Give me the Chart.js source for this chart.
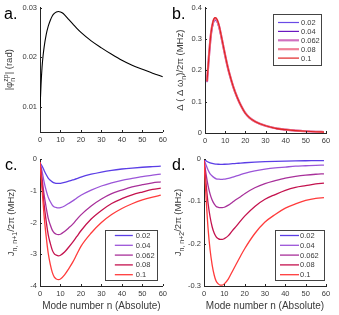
<!DOCTYPE html>
<html>
<head>
<meta charset="utf-8">
<script src="https://cdn.jsdelivr.net/npm/chart.js@4"></script>
<style>
  html, body { margin: 0; padding: 0; background: #fff; }
  #wrap { position: relative; width: 339px; height: 315px; overflow: hidden; }
  canvas { position: absolute; }
</style>
</head>
<body>
<div id="wrap">
  <canvas id="pa" width="170" height="150" style="left:0;top:0"></canvas>
  <canvas id="pb" width="169" height="150" style="left:170px;top:0"></canvas>
  <canvas id="pc" width="170" height="165" style="left:0;top:150px"></canvas>
  <canvas id="pd" width="169" height="165" style="left:170px;top:150px"></canvas>
</div>
<script>
// shared
var xTicks = [0, 10, 20, 30, 40, 50, 60];
var seriesLabels = ['0.02', '0.04', '0.062', '0.08', '0.1'];

// a. |phi_n^zp| vs n
var aN = [0, 0.5, 1, 1.5, 2, 3, 4, 5, 6, 7, 8, 9, 10, 11, 12, 14, 16, 18, 20, 25, 30, 35, 40, 45, 50, 55, 60];
var aPhi = [0.0095, 0.0145, 0.018, 0.0203, 0.022, 0.0245, 0.0262, 0.0274, 0.0283, 0.0288, 0.0291, 0.0292, 0.0291, 0.0289, 0.0285,
            0.0276, 0.0267, 0.0258, 0.0250, 0.0233, 0.0219, 0.0206, 0.0194, 0.0184, 0.0176, 0.0168, 0.0161];
var aYTicks = [0.01, 0.02, 0.03];

// b. delta(delta omega_n)/2pi
var bN = [1, 2, 3, 4, 5, 6, 7, 8, 9, 10, 11, 12, 14, 16, 18, 20, 22, 25, 30, 35, 40, 45, 50, 55, 59];
var b002 = [0.162, 0.244, 0.312, 0.347, 0.359, 0.354, 0.335, 0.307, 0.276, 0.245, 0.216, 0.19, 0.147, 0.112, 0.085, 0.063, 0.049, 0.036, 0.023, 0.015, 0.0105, 0.0075, 0.0055, 0.004, 0.003];
var b004 = [0.163, 0.246, 0.315, 0.35, 0.362, 0.356, 0.337, 0.309, 0.277, 0.246, 0.217, 0.191, 0.147, 0.112, 0.085, 0.063, 0.049, 0.036, 0.023, 0.015, 0.0105, 0.0075, 0.0055, 0.004, 0.003];
var b0062 = [0.164, 0.248, 0.317, 0.352, 0.364, 0.358, 0.339, 0.31, 0.278, 0.247, 0.217, 0.191, 0.147, 0.113, 0.085, 0.063, 0.049, 0.036, 0.023, 0.015, 0.0105, 0.0075, 0.0055, 0.004, 0.003];
var b008 = [0.165, 0.249, 0.319, 0.354, 0.366, 0.36, 0.34, 0.311, 0.279, 0.247, 0.218, 0.192, 0.148, 0.113, 0.085, 0.063, 0.049, 0.036, 0.023, 0.015, 0.0105, 0.0075, 0.0055, 0.004, 0.003];
var b010 = [0.165, 0.25, 0.32, 0.356, 0.368, 0.362, 0.342, 0.312, 0.28, 0.248, 0.218, 0.192, 0.148, 0.113, 0.085, 0.063, 0.049, 0.036, 0.023, 0.015, 0.0105, 0.0075, 0.0055, 0.004, 0.003];
var bYTicks = [0, 0.1, 0.2, 0.3, 0.4];

// c. and d. couplings
var cdN = [0, 1, 2, 3, 4, 5, 6, 7, 8, 9, 10, 12, 14, 16, 18, 20, 25, 30, 35, 40, 45, 50, 55, 59];
var c002 = [-0.12, -0.22, -0.36, -0.49, -0.60, -0.67, -0.72, -0.755, -0.766, -0.77, -0.766, -0.74, -0.70, -0.66, -0.62, -0.57, -0.48, -0.41, -0.355, -0.315, -0.285, -0.26, -0.24, -0.225];
var c004 = [-0.1, -0.38, -0.72, -0.99, -1.20, -1.34, -1.45, -1.51, -1.53, -1.54, -1.53, -1.48, -1.40, -1.32, -1.23, -1.14, -0.98, -0.85, -0.75, -0.67, -0.61, -0.555, -0.51, -0.475];
var c0062 = [-0.1, -0.60, -1.12, -1.52, -1.86, -2.07, -2.24, -2.33, -2.37, -2.38, -2.37, -2.28, -2.17, -2.05, -1.90, -1.76, -1.48, -1.26, -1.09, -0.98, -0.88, -0.81, -0.75, -0.72];
var c008 = [-0.1, -0.76, -1.43, -1.95, -2.38, -2.65, -2.87, -2.99, -3.03, -3.05, -3.03, -2.93, -2.78, -2.62, -2.44, -2.26, -1.89, -1.62, -1.40, -1.25, -1.13, -1.04, -0.96, -0.92];
var c010 = [-0.1, -0.95, -1.79, -2.43, -2.96, -3.31, -3.57, -3.72, -3.78, -3.80, -3.78, -3.65, -3.46, -3.25, -3.00, -2.75, -2.33, -2.00, -1.75, -1.56, -1.41, -1.29, -1.20, -1.14];
var cYTicks = [-4, -3, -2, -1, 0];

var d002 = [0, -0.004, -0.007, -0.009, -0.0105, -0.0115, -0.012, -0.0124, -0.0125, -0.0125, -0.0124, -0.0119, -0.0111, -0.0104, -0.0096, -0.0089, -0.0074, -0.0063, -0.0055, -0.0049, -0.0044, -0.0041, -0.0039, -0.0037];
var d004 = [-0.001, -0.014, -0.026, -0.035, -0.040, -0.044, -0.047, -0.0475, -0.048, -0.048, -0.0475, -0.046, -0.043, -0.040, -0.037, -0.034, -0.028, -0.024, -0.021, -0.019, -0.017, -0.016, -0.015, -0.0145];
var d0062 = [-0.002, -0.035, -0.063, -0.083, -0.097, -0.106, -0.112, -0.114, -0.115, -0.115, -0.114, -0.109, -0.102, -0.095, -0.089, -0.082, -0.068, -0.058, -0.051, -0.045, -0.041, -0.038, -0.036, -0.035];
var d008 = [-0.003, -0.057, -0.105, -0.137, -0.160, -0.175, -0.184, -0.188, -0.19, -0.19, -0.188, -0.181, -0.169, -0.158, -0.146, -0.135, -0.112, -0.095, -0.084, -0.074, -0.067, -0.063, -0.059, -0.057];
var d010 = [-0.005, -0.089, -0.164, -0.215, -0.25, -0.274, -0.289, -0.295, -0.298, -0.298, -0.295, -0.283, -0.265, -0.247, -0.229, -0.212, -0.176, -0.149, -0.131, -0.116, -0.106, -0.098, -0.093, -0.091];
var dYTicks = [-0.3, -0.2, -0.1, 0];

var FONT = '"Liberation Sans", Arial, sans-serif';
var AXIS = '#262626';
var TEXT = '#3a3a3a';
var bColors = ['#6a4ae6', '#6a18c0', '#d070c0', '#f08098', '#e02424'];
var bWidths = [1.2, 1.2, 2.2, 2.2, 1.2];
var cdColors = ['#5b3ee6', '#9b55d8', '#a8309a', '#c4124e', '#ff3b3b'];
var cdWidths = [1.3, 1.3, 1.3, 1.3, 1.3];

function drawVTitle(ctx, cx, cy, parts, size) {
  var big = size + 'px ' + FONT, small = Math.round(size * 0.72) + 'px ' + FONT;
  var w = 0;
  parts.forEach(function (p) {
    if (p.t) { ctx.font = big; p.w = ctx.measureText(p.t).width; }
    else {
      ctx.font = small;
      p.w = Math.max(p.sub ? ctx.measureText(p.sub).width : 0, p.sup ? ctx.measureText(p.sup).width : 0);
    }
    w += p.w;
  });
  ctx.save();
  ctx.translate(cx + size * 0.36, cy);
  ctx.rotate(-Math.PI / 2);
  ctx.fillStyle = TEXT;
  ctx.textAlign = 'left';
  ctx.textBaseline = 'alphabetic';
  var x = -w / 2;
  parts.forEach(function (p) {
    if (p.t) { ctx.font = big; ctx.fillText(p.t, x, 0); }
    else {
      ctx.font = small;
      if (p.sub) ctx.fillText(p.sub, x, size * 0.3);
      if (p.sup) ctx.fillText(p.sup, x, -size * 0.45);
    }
    x += p.w;
  });
  ctx.restore();
}

function drawLegend(ctx, a, o, chart) {
  var L = o.legend;
  var bx = a.right - L.dr - L.w;
  var by = L.fromTop ? a.top + L.dy : a.bottom - L.dy - L.h;
  ctx.fillStyle = '#fff';
  ctx.fillRect(bx, by, L.w, L.h);
  ctx.strokeStyle = '#444';
  ctx.lineWidth = 1;
  ctx.strokeRect(Math.round(bx) + 0.5, Math.round(by) + 0.5, L.w, L.h);
  ctx.font = '7.5px ' + FONT;
  ctx.textBaseline = 'middle';
  ctx.textAlign = 'left';
  chart.data.datasets.forEach(function (ds, i) {
    var y = by + L.first + i * L.step;
    ctx.strokeStyle = ds.borderColor;
    ctx.lineWidth = ds.borderWidth;
    ctx.beginPath();
    ctx.moveTo(bx + L.lx, y);
    ctx.lineTo(bx + L.lx + L.len, y);
    ctx.stroke();
    ctx.fillStyle = TEXT;
    ctx.fillText(ds.label, bx + L.tx, y + 0.5);
  });
}

function decor(o) {
  return {
    id: 'decor',
    afterDraw: function (chart) {
      var ctx = chart.ctx, a = chart.chartArea, xs = chart.scales.x, ys = chart.scales.y;
      ctx.save();
      // inward ticks
      ctx.strokeStyle = AXIS;
      ctx.lineWidth = 1;
      ctx.beginPath();
      xTicks.forEach(function (v) {
        var p = Math.round(xs.getPixelForValue(v)) + 0.5;
        ctx.moveTo(p, a.bottom); ctx.lineTo(p, a.bottom - 2);
      });
      o.yticks.forEach(function (v) {
        var p = Math.round(ys.getPixelForValue(v)) + 0.5;
        ctx.moveTo(a.left, p); ctx.lineTo(a.left + 2, p);
      });
      ctx.stroke();
      // panel letter
      ctx.fillStyle = '#000';
      ctx.font = '16px ' + FONT;
      ctx.textAlign = 'left';
      ctx.textBaseline = 'alphabetic';
      ctx.fillText(o.letter, o.letterX, o.letterY);
      drawVTitle(ctx, o.ytX, (a.top + a.bottom) / 2, o.ytitle, 9.5);
      if (o.legend) drawLegend(ctx, a, o, chart);
      ctx.restore();
    }
  };
}

function panel(id, o) {
  var datasets = o.series.map(function (ys, i) {
    return {
      label: o.labels ? o.labels[i] : '',
      data: o.xs.map(function (x, k) { return { x: x, y: ys[k] }; }),
      borderColor: o.colors[i],
      borderWidth: o.widths[i],
      pointRadius: 0,
      fill: false,
      cubicInterpolationMode: 'monotone',
      order: o.series.length - 1 - i
    };
  });
  var tickFont = { family: FONT, size: 7.5 };
  return new Chart(document.getElementById(id), {
    type: 'line',
    data: { datasets: datasets },
    options: {
      responsive: false,
      animation: false,
      devicePixelRatio: 1,
      layout: { padding: o.pad },
      plugins: { legend: { display: false }, tooltip: { enabled: false } },
      scales: {
        x: {
          type: 'linear', min: 0, max: 60,
          afterBuildTicks: function (s) { s.ticks = xTicks.map(function (v) { return { value: v }; }); },
          afterFit: function (s) { s.height = o.xh; },
          grid: { display: false, drawTicks: false },
          border: { color: AXIS, width: 1 },
          ticks: { font: tickFont, color: TEXT, padding: 3, maxRotation: 0 },
          title: o.xtitle ? { display: true, text: o.xtitle, font: { family: FONT, size: 10 }, color: TEXT, padding: { top: 2, bottom: 3 } } : { display: false }
        },
        y: {
          type: 'linear', min: o.ymin, max: o.ymax,
          afterBuildTicks: function (s) { s.ticks = o.yticks.map(function (v) { return { value: v }; }); },
          afterFit: function (s) { s.width = o.yw; },
          grid: { display: false, drawTicks: false },
          border: { color: AXIS, width: 1 },
          ticks: { font: tickFont, color: TEXT, padding: 3, callback: o.yfmt }
        }
      }
    },
    plugins: [decor(o)]
  });
}

panel('pa', {
  xs: aN, series: [aPhi], colors: ['#000'], widths: [1.1],
  ymin: 0.005, ymax: 0.03, yticks: aYTicks, yfmt: function (v) { return v.toFixed(2); },
  pad: { left: 0, right: 7, top: 6, bottom: 0 }, yw: 40, xh: 18,
  letter: 'a.', letterX: 4, letterY: 19, ytX: 9,
  ytitle: [{ t: '|φ' }, { sub: 'n', sup: 'zp' }, { t: '| (rad)' }]
});

panel('pb', {
  xs: bN, series: [b002, b004, b0062, b008, b010], colors: bColors, widths: bWidths, labels: seriesLabels,
  ymin: 0, ymax: 0.4, yticks: bYTicks, yfmt: function (v) { return String(v); },
  pad: { left: 0, right: 13, top: 6, bottom: 0 }, yw: 35, xh: 17,
  letter: 'b.', letterX: 2, letterY: 19, ytX: 10,
  ytitle: [{ t: 'Δ ( Δ ω' }, { sub: 'n' }, { t: ')/2π (MHz)' }],
  legend: { fromTop: true, dy: 6, dr: 5, w: 48, h: 51, first: 9, step: 8.9, lx: 5, len: 21, tx: 28 }
});

panel('pc', {
  xs: cdN, series: [c002, c004, c0062, c008, c010], colors: cdColors, widths: cdWidths, labels: seriesLabels,
  ymin: -4, ymax: 0, yticks: cYTicks, yfmt: function (v) { return String(v); },
  pad: { left: 0, right: 7, top: 9, bottom: 0 }, yw: 40, xh: 29,
  xtitle: 'Mode number n (Absolute)',
  letter: 'c.', letterX: 5, letterY: 20, ytX: 11,
  ytitle: [{ t: 'J' }, { sub: 'n, n+1' }, { t: '/2π (MHz)' }],
  legend: { fromTop: false, dy: 6, dr: 6, w: 52, h: 50, first: 5.5, step: 9.8, lx: 10, len: 18, tx: 31 }
});

panel('pd', {
  xs: cdN, series: [d002, d004, d0062, d008, d010], colors: cdColors, widths: cdWidths, labels: seriesLabels,
  ymin: -0.3, ymax: 0, yticks: dYTicks, yfmt: function (v) { return String(v); },
  pad: { left: 0, right: 13, top: 9, bottom: 0 }, yw: 34, xh: 29,
  xtitle: 'Mode number n (Absolute)',
  letter: 'd.', letterX: 2, letterY: 20, ytX: 8,
  ytitle: [{ t: 'J' }, { sub: 'n, n+2' }, { t: '/2π (MHz)' }],
  legend: { fromTop: false, dy: 6, dr: 2, w: 49, h: 50, first: 5.5, step: 9.8, lx: 5, len: 19, tx: 25 }
});
</script>
</body>
</html>
